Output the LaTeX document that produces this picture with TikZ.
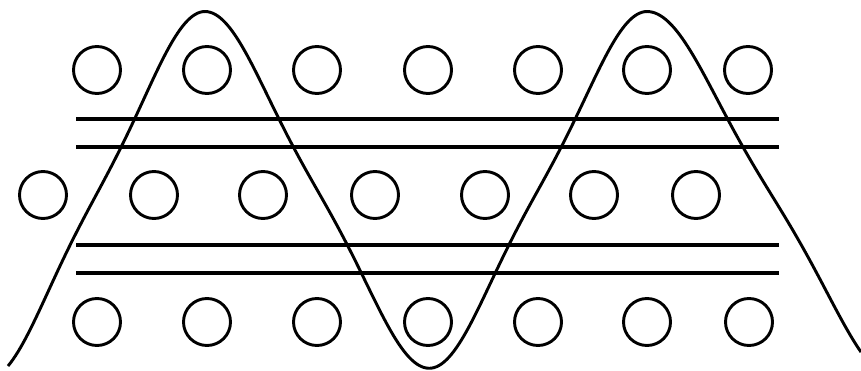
\documentclass[tikz,border=0pt]{standalone}
\usepackage{tikz}
\usetikzlibrary{positioning}

\begin{document}
\begin{tikzpicture}[x=0.03cm,y=-0.03cm,
    ball/.style={draw,circle,line width=2.5pt,minimum size=1.41cm,inner sep=0pt},
    rail/.style={line width=2.6pt},
    wave/.style={line width=2.5pt,line join=round},
    declare function={wv(\t)=(cos(\t)+0.08*cos(3*\t))/1.08;}]
  \useasboundingbox (0,0) rectangle (861,371);
  % top row of circles
  \foreach \x [count=\i] in {97,207,317,428,538,647,748}
    \node[ball] (top\i) at (\x,70) {};
  % middle row
  \foreach \x [count=\i] in {43,154,263,375,485,594,696}
    \node[ball] (mid\i) at (\x,195) {};
  % bottom row
  \foreach \x [count=\i] in {97,207,317,428,538,647,749}
    \node[ball] (bot\i) at (\x,322) {};
  % horizontal lines
  \foreach \y in {119,147,245,273}
    \draw[rail] (76,\y) -- (779,\y);
  % the wave, one half wave at a time
  \draw[wave]
    plot[domain=8:205,samples=80] (\x,{11.5+367.5*(1-wv((205-\x)*0.82569))/2})
    -- plot[domain=205:429.3,samples=90] (\x,{11.5+356.8*(1-wv((\x-205)*0.8025))/2})
    -- plot[domain=429.3:647,samples=90] (\x,{11.5+356.8*(1-wv((647-\x)*0.82683))/2})
    -- plot[domain=647:861,samples=80] (\x,{11.5+368.5*(1-wv((\x-647)*0.72))/2});
\end{tikzpicture}
\end{document}
